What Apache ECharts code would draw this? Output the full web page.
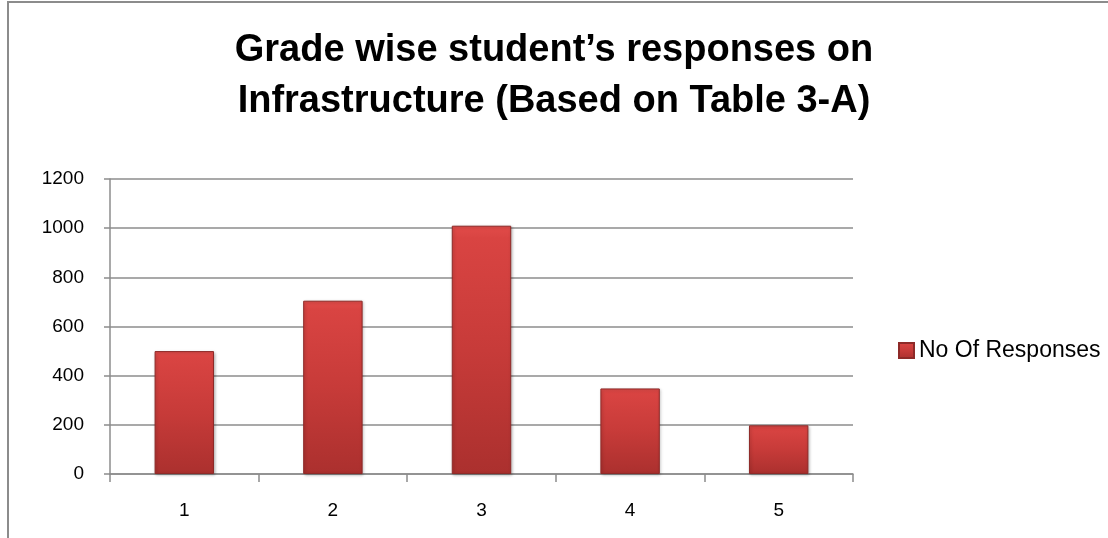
<!DOCTYPE html>
<html>
<head>
<meta charset="utf-8">
<title>Grade wise responses</title>
<script src="https://cdn.jsdelivr.net/npm/echarts@6/dist/echarts.min.js"></script>
<style>
  html, body { margin: 0; padding: 0; background: #fff; }
  #frame {
    position: absolute; left: 7px; top: 1px; width: 1101px; height: 537px;
    border-left: 2px solid #8c8c8c; border-top: 2px solid #8c8c8c;
  }
  #chart { position: absolute; left: 0; top: 0; width: 1108px; height: 538px; }
</style>
</head>
<body>
<div id="frame"></div>
<div id="chart"></div>
<script>
// 数据
const grades = ['1', '2', '3', '4', '5']
const responses = [500, 705, 1010, 348, 198]
const seriesName = 'No Of Responses'
const titleText = 'Grade wise student\u2019s responses on\nInfrastructure (Based on Table 3-A)'

const chart = echarts.init(document.getElementById('chart'))

// bar fill, a bit like the office bevel look
const barFill = new echarts.graphic.LinearGradient(0, 0, 0, 1, [
  { offset: 0, color: '#e24c4a' },
  { offset: 0.05, color: '#d94442' },
  { offset: 0.5, color: '#c73b39' },
  { offset: 1, color: '#ab302e' }
])

const option = {
  animation: false,
  textStyle: { fontFamily: 'Liberation Sans', color: '#000' },
  title: {
    text: titleText,
    left: 'center',
    top: 20,
    textStyle: {
      fontFamily: 'Liberation Sans',
      fontWeight: 'bold',
      fontSize: 38,
      lineHeight: 51,
      color: '#000'
    }
  },
  legend: {
    orient: 'vertical',
    left: 893,
    top: 334,
    itemWidth: 15,
    itemHeight: 15,
    itemGap: 6,
    icon: 'rect',
    textStyle: { fontSize: 23, color: '#000' },
    data: [seriesName]
  },
  grid: {
    left: 110,
    right: 255,
    top: 179,
    bottom: 64
  },
  xAxis: {
    type: 'category',
    data: grades,
    axisLine: { lineStyle: { color: '#8c8c8c', width: 1.5 } },
    axisTick: { show: true, length: 8, lineStyle: { color: '#8c8c8c', width: 1.5 } },
    axisLabel: { fontSize: 19, color: '#000', margin: 27 }
  },
  yAxis: {
    type: 'value',
    min: 0,
    max: 1200,
    interval: 200,
    axisLine: { show: true, lineStyle: { color: '#8c8c8c', width: 1.5 } },
    axisTick: { show: true, length: 6, lineStyle: { color: '#8c8c8c', width: 1.5 } },
    axisLabel: { fontSize: 19, color: '#000', margin: 26, formatter: (v) => String(v) },
    splitLine: { lineStyle: { color: '#8c8c8c', width: 1.5 } }
  },
  series: [
    {
      name: seriesName,
      type: 'bar',
      data: responses,
      barWidth: '40%',
      itemStyle: {
        color: barFill,
        borderColor: '#8e2a28',
        borderWidth: 1,
        shadowColor: 'rgba(0, 0, 0, 0.25)',
        shadowBlur: 3,
        shadowOffsetX: 1,
        shadowOffsetY: 1
      }
    }
  ]
}

chart.setOption(option)
</script>
</body>
</html>
